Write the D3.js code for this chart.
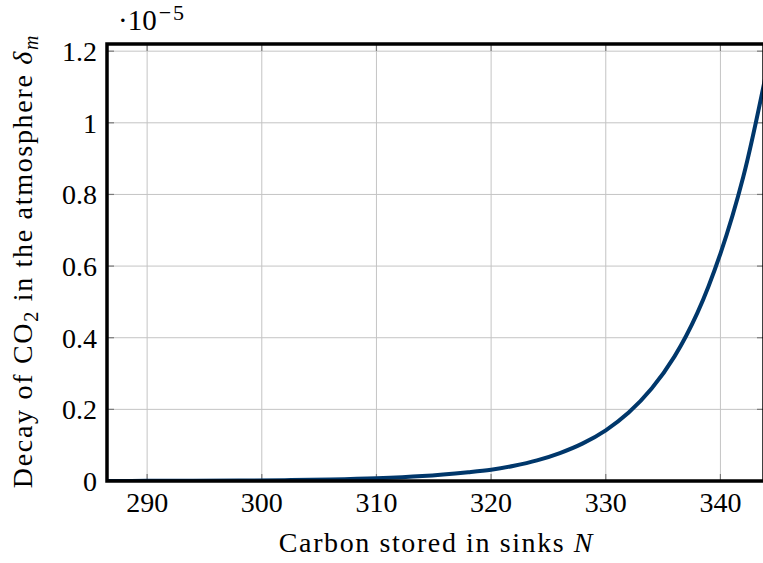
<!DOCTYPE html>
<html>
<head>
<meta charset="utf-8">
<script src="https://cdn.jsdelivr.net/npm/d3@7"></script>
<style>
  html, body { margin: 0; padding: 0; background: #fff; }
  svg { display: block; }
  text { font-family: "Liberation Serif", "DejaVu Serif", serif; fill: #000; }
</style>
</head>
<body>
<svg id="chart" width="763" height="563"></svg>
<script>
// Carbon stored in sinks N
const carbonN = [286.5, 290, 294, 298, 302, 306, 310, 314, 318, 320, 322, 324, 326, 328, 330, 332, 334, 336, 338, 340, 342, 344];
// Decay of CO2 in the atmosphere (in units of 1e-5)
const decay = [0.0002, 0.0004, 0.0007, 0.0013, 0.0024, 0.0042, 0.0076, 0.0138, 0.0246, 0.0316, 0.0426, 0.0575, 0.078, 0.105, 0.1415, 0.191, 0.258, 0.348, 0.47, 0.635, 0.85, 1.14];

const xTicks = [290, 300, 310, 320, 330, 340];
const yTicks = [0, 0.2, 0.4, 0.6, 0.8, 1, 1.2];
const xDomain = [286.5, 343.8];
const yDomain = [0, 1.22];

const svg = d3.select("#chart");
const pL = 107, pT = 44, pB = 481, pR = 764;

const x = d3.scaleLinear().domain(xDomain).range([pL, pR]);
const y = d3.scaleLinear().domain(yDomain).range([pB, pT]);

// grid
const grid = svg.append("g").attr("stroke", "#c4c4c4").attr("stroke-width", 1);
grid.selectAll("line.v").data(xTicks).join("line")
  .attr("x1", d => x(d)).attr("x2", d => x(d)).attr("y1", pT).attr("y2", pB);
grid.selectAll("line.h").data(yTicks).join("line")
  .attr("x1", pL).attr("x2", pR).attr("y1", d => y(d)).attr("y2", d => y(d));

// inner tick marks
const tl = 7;
const tk = svg.append("g").attr("stroke", "#7a7a7a").attr("stroke-width", 1.2);
tk.selectAll("line.b").data(xTicks).join("line")
  .attr("x1", d => x(d)).attr("x2", d => x(d)).attr("y1", pB).attr("y2", pB - tl);
tk.selectAll("line.t").data(xTicks).join("line")
  .attr("x1", d => x(d)).attr("x2", d => x(d)).attr("y1", pT).attr("y2", pT + tl);
tk.selectAll("line.r").data(yTicks).join("line")
  .attr("x1", pR).attr("x2", pR - tl).attr("y1", d => y(d)).attr("y2", d => y(d));
tk.selectAll("line.l").data(yTicks).join("line")
  .attr("x1", pL).attr("x2", pL + tl).attr("y1", d => y(d)).attr("y2", d => y(d));

// curve
const line = d3.line().x((d, i) => x(carbonN[i])).y(d => y(d)).curve(d3.curveCatmullRom.alpha(0.5));
svg.append("clipPath").attr("id", "plotclip").append("rect")
  .attr("x", pL).attr("y", pT).attr("width", pR - pL).attr("height", pB - pT);
svg.append("path").datum(decay)
  .attr("clip-path", "url(#plotclip)")
  .attr("fill", "none").attr("stroke", "#00376b").attr("stroke-width", 4)
  .attr("d", line);

// frame
svg.append("rect").attr("x", pL).attr("y", pT).attr("width", pR - pL).attr("height", pB - pT)
  .attr("fill", "none").attr("stroke", "#000").attr("stroke-width", 3.5);

// tick labels
const fmtY = d => d === 0 ? "0" : String(+d.toFixed(1));
svg.append("g").selectAll("text").data(yTicks).join("text")
  .attr("x", 97).attr("y", d => y(d)).attr("dy", "0.35em")
  .attr("text-anchor", "end").attr("font-size", 28)
  .text(fmtY);

svg.append("g").selectAll("text").data(xTicks).join("text")
  .attr("x", d => x(d)).attr("y", 512)
  .attr("text-anchor", "middle").attr("font-size", 28)
  .text(d => d);

// exponent
const ex = svg.append("text").attr("x", 118).attr("y", 30).attr("font-size", 29);
ex.append("tspan").text("\u00b710");
ex.append("tspan").attr("dx", 2).attr("dy", -10).attr("font-size", 22).attr("letter-spacing", 2).text("\u22125");

// x title
const xt = svg.append("text").attr("x", 436.5).attr("y", 552).attr("text-anchor", "middle")
  .attr("font-size", 28).attr("letter-spacing", 1.6);
xt.append("tspan").text("Carbon stored in sinks ");
xt.append("tspan").attr("font-style", "italic").text("N");

// y title
const yt = svg.append("text").attr("transform", "translate(32,261) rotate(-90)")
  .attr("text-anchor", "middle").attr("font-size", 28).attr("letter-spacing", 1.7);
yt.append("tspan").text("Decay of CO");
yt.append("tspan").attr("font-size", 20).attr("dy", 6).text("2");
yt.append("tspan").attr("dy", -6).text(" in the atmosphere ");
yt.append("tspan").attr("font-style", "italic").text("\u03b4");
yt.append("tspan").attr("font-style", "italic").attr("font-size", 20).attr("dy", 6).text("m");
</script>
</body>
</html>
